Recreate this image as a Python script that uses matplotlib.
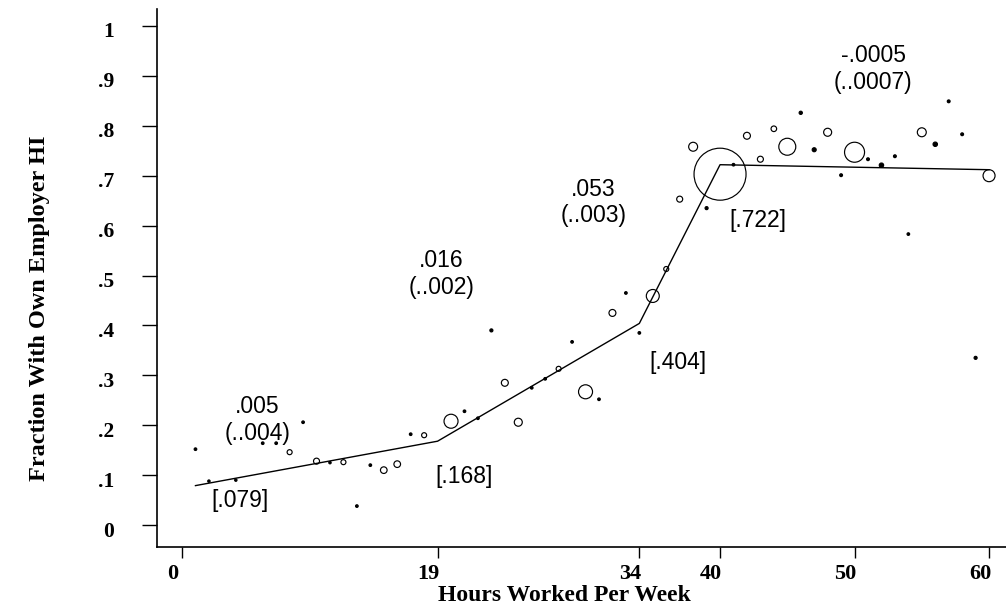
import matplotlib
matplotlib.use("Agg")
import matplotlib.pyplot as plt
import matplotlib.transforms as mtransforms
import numpy as np

# ---- data -------------------------------------------------------------
hours = [1, 2, 4, 6, 7, 8, 9, 10, 11, 12, 13, 14, 15, 16, 17, 18,
         20, 21, 22, 23, 24, 25, 26, 27, 28, 29, 30, 31, 32, 33, 34,
         35, 36, 37, 38, 39, 40, 41, 42, 43, 44, 45, 46, 47, 48, 49,
         50, 51, 52, 53, 54, 55, 56, 57, 58, 59, 60]
frac_hi = [.152, .088, .090, .164, .164, .146, .206, .128, .125, .126, .038,
           .120, .110, .122, .182, .180,
           .208, .228, .214, .390, .285, .206, .275, .293, .313, .367, .267,
           .252, .425, .465, .385,
           .459, .513, .653, .758, .635, .703, .722, .780, .733, .794, .758,
           .826, .752, .787, .701,
           .747, .733, .721, .739, .583, .787, .763, .849, .783, .335, .700]
# relative cell weight (marker area)
cell_weight = [1.7, 1.4, 1.4, 1.7, 1.7, 6.3, 1.7, 9, 1.4, 6.3, 1.7,
               1.7, 11, 11, 1.7, 6.3,
               49, 1.7, 1.7, 2.3, 12, 16, 1.7, 1.7, 6.3, 1.7, 49,
               1.7, 12, 1.7, 1.7,
               42, 6.3, 9, 20, 2.3, 676, 1.7, 12, 9, 7.8, 72,
               2.6, 4, 16, 2,
               100, 2, 4.8, 2, 1.7, 20, 4.8, 2, 2, 2.3, 36]

# piecewise-linear spline fit (knots)
fit_hours = [1, 19, 34, 40, 60]
fit_values = [.079, .168, .404, .722, .712]

# slope labels (coef, (se)) and knot-value labels
slope_text = [".005\n(..004)", ".016\n(..002)", ".053\n(..003)", "-.0005\n(..0007)"]
slope_pos_x = [5.6, 19.3, 30.6, 51.4]
slope_pos_y = [.21, .503, .646, .914]
knot_text = ["[.079]", "[.168]", "[.404]", "[.722]"]
knot_pos_x = [4.3, 21.0, 36.9, 42.8]
knot_pos_y = [.050, .098, .325, .611]

xticks = [0, 19, 34, 40, 50, 60]
yticks = [0, .1, .2, .3, .4, .5, .6, .7, .8, .9, 1]
ytick_labels = ["0", ".1", ".2", ".3", ".4", ".5", ".6", ".7", ".8", ".9", "1"]

# ---- figure -------------------------------------------------------------
fig = plt.figure(figsize=(10.06, 6.08), dpi=100)
ax = fig.add_axes([157 / 1006, 61 / 608, 849 / 1006, 538 / 608])

w = np.array(cell_weight)
sizes = (2 * np.sqrt(w) * 0.72) ** 2
faces = ['k' if v < 5 else 'none' for v in w]
ax.scatter(hours, frac_hi, s=sizes, facecolors=faces, edgecolors='k',
           linewidths=0.85, zorder=3)
ax.plot(fit_hours, fit_values, color='k', lw=1.0, zorder=2)

sans = ['Liberation Sans', 'DejaVu Sans']
for t, x, y in zip(slope_text, slope_pos_x, slope_pos_y):
    ax.text(x, y, t, ha='center', va='center', fontsize=16.5, family=sans,
            linespacing=1.2)
for t, x, y in zip(knot_text, knot_pos_x, knot_pos_y):
    ax.text(x, y, t, ha='center', va='center', fontsize=16.5, family=sans)

ax.set_xlim(-1.86, 61.26)
ax.set_ylim(-0.044, 1.034)
for s in ['top', 'right']:
    ax.spines[s].set_visible(False)
for s in ['left', 'bottom']:
    ax.spines[s].set_linewidth(1.2)

serif = ['Liberation Serif', 'DejaVu Serif']
ax.set_xticks(xticks)
ax.set_xticklabels([str(v) for v in xticks], fontsize=16, fontweight='bold',
                   family=serif)
ax.set_yticks(yticks)
ax.set_yticklabels(ytick_labels, fontsize=15.5, fontweight='bold', family=serif)
ax.tick_params(axis='x', direction='out', length=8, width=1.0, pad=4)
ax.tick_params(axis='y', direction='out', length=11, width=1.0, pad=20)

offx = mtransforms.ScaledTranslation(-9 / 100, 0, fig.dpi_scale_trans)
for lab in ax.get_xticklabels():
    lab.set_transform(lab.get_transform() + offx)
offy = mtransforms.ScaledTranslation(0, -4 / 100, fig.dpi_scale_trans)
for lab in ax.get_yticklabels():
    lab.set_transform(lab.get_transform() + offy)

ax.set_xlabel("Hours Worked Per Week", fontsize=17, fontweight='bold',
              family=serif, va='center')
ax.xaxis.set_label_coords(0.48, -0.091)
ax.set_ylabel("Fraction With Own Employer HI", fontsize=17.5, fontweight='bold',
              family=serif, va='center')
ax.yaxis.set_label_coords(-0.138, 0.444)

fig.savefig("out.png", dpi=100, facecolor='white')
